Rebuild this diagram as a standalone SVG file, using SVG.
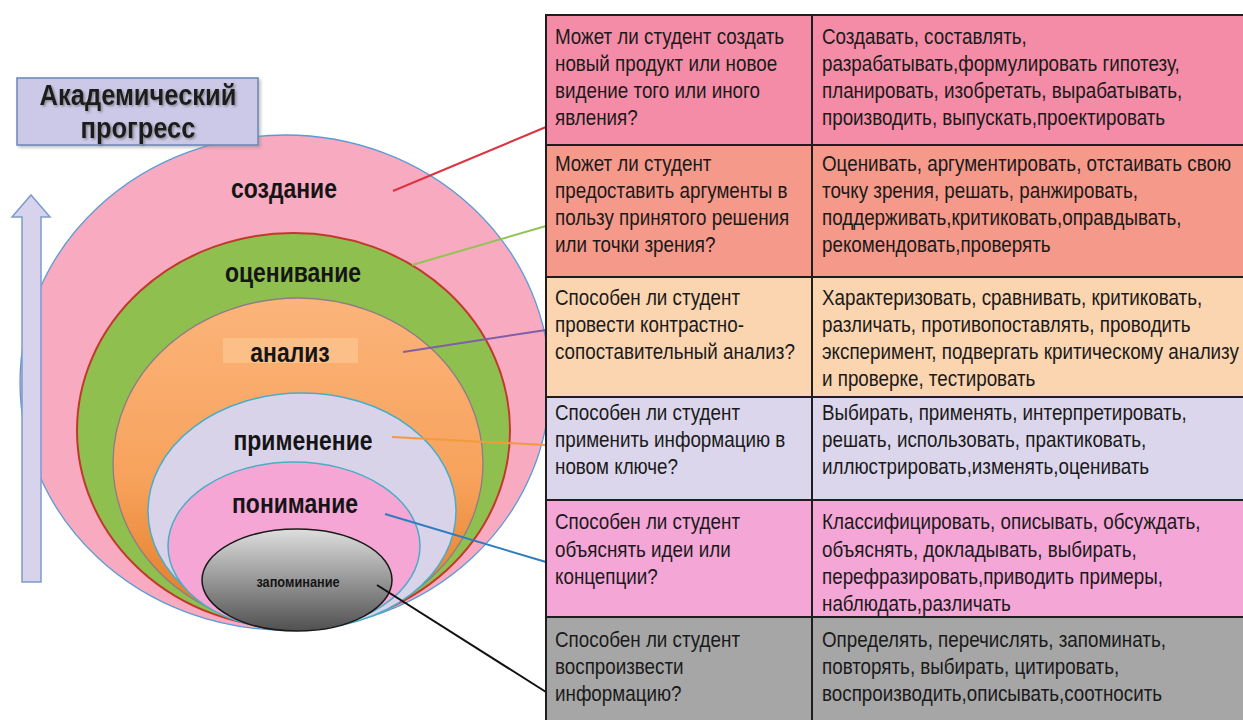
<svg xmlns="http://www.w3.org/2000/svg" width="1243" height="720" viewBox="0 0 1243 720">
<defs>
<linearGradient id="gOrange" x1="0" y1="0" x2="0" y2="1"><stop offset="0" stop-color="#fbb47a"/><stop offset="0.55" stop-color="#f7a25c"/><stop offset="1" stop-color="#df7820"/></linearGradient>
<linearGradient id="gGray" x1="0" y1="0" x2="0" y2="1"><stop offset="0" stop-color="#dedede"/><stop offset="1" stop-color="#505050"/></linearGradient>
<filter id="tshadow" x="-10%" y="-20%" width="120%" height="150%"><feDropShadow dx="1.5" dy="1.5" stdDeviation="0.8" flood-color="#6a6a6a" flood-opacity="0.7"/></filter>
<filter id="bshadow" x="-5%" y="-10%" width="115%" height="130%"><feDropShadow dx="2" dy="2" stdDeviation="1.5" flood-color="#888" flood-opacity="0.5"/></filter>
</defs>
<style>
.lbl{font-family:"Liberation Sans",Arial,sans-serif;font-weight:bold;font-size:27px;fill:#151515;text-anchor:middle}
.ttl{font-family:"Liberation Sans",Arial,sans-serif;font-weight:bold;font-size:30px;fill:#1a1a1a;text-anchor:middle}
.cell{font-family:"Liberation Sans",Arial,sans-serif;font-size:21.5px;fill:#1a1a1a}
.conn{fill:none;stroke-width:2}
.grid{stroke:#1e1e1e;stroke-width:2}
</style>
<rect width="1243" height="720" fill="#ffffff"/>

<g id="level-sozdanie">
<ellipse cx="285" cy="382.5" rx="265" ry="247.5" fill="#f8aac0" stroke="#5b9bd5" stroke-width="1.3"/>
<text class="lbl" transform="translate(284,198) scale(0.85,1)">создание</text>
</g>
<g id="level-otsenivanie">
<ellipse cx="293.5" cy="430.5" rx="216.5" ry="197.5" fill="#8fbf4f" stroke="#c0392b" stroke-width="2"/>
<text class="lbl" transform="translate(293,282) scale(0.85,1)">оценивание</text>
</g>
<g id="level-analiz">
<ellipse cx="298" cy="463" rx="185" ry="165" fill="url(#gOrange)" stroke="#8c7d86" stroke-width="1.3"/>
<rect x="223" y="338" width="135" height="25" fill="#fcbf88"/>
<text class="lbl" transform="translate(290,362) scale(0.85,1)">анализ</text>
</g>
<g id="level-primenenie">
<ellipse cx="302" cy="511" rx="154" ry="118" fill="#d9d3ea" stroke="#4bacc6" stroke-width="1.5"/>
<text class="lbl" transform="translate(303,450) scale(0.85,1)">применение</text>
</g>
<g id="level-ponimanie">
<ellipse cx="294" cy="546" rx="126" ry="84" fill="#f5a6d5" stroke="#4bacc6" stroke-width="1.5"/>
<text class="lbl" transform="translate(295,513) scale(0.85,1)">понимание</text>
</g>
<g id="level-zapominanie">
<ellipse cx="297" cy="580" rx="95" ry="51" fill="url(#gGray)" stroke="#1a1a1a" stroke-width="1.5"/>
<text class="lbl" style="font-size:15px" transform="translate(298,587) scale(0.85,1)">запоминание</text>
</g>

<g id="title">
<rect x="17" y="78" width="241" height="67" fill="#ccc9e8" stroke="#6d85b8" stroke-width="1.5" filter="url(#bshadow)"/>
<g filter="url(#tshadow)">
<text class="ttl" transform="translate(138,105) scale(0.85,1)">Академический</text>
<text class="ttl" transform="translate(138,138) scale(0.85,1)">прогресс</text>
</g>
</g>

<g id="arrow">
<polygon points="22,582 22,217 12,217 31,195 50,217 41,217 41,582" fill="#d7d3ec" stroke="#7d9bd0" stroke-width="1.5"/>
</g>

<g id="connectors">
<path class="conn" d="M393 191 L546 127" stroke="#d9343f"/>
<path class="conn" d="M412 265 L546 226" stroke="#92c353"/>
<path class="conn" d="M403 352 L546 330" stroke="#7f5fa8"/>
<path class="conn" d="M392 437 L546 445" stroke="#f29b3c"/>
<path class="conn" d="M385 514 L546 562" stroke="#2f7dc1"/>
<path class="conn" d="M377 585 L546 692" stroke="#111111"/>
</g>

<g id="table">
<g id="row1">
<rect class="grid" x="546" y="15" width="266" height="130" fill="#f48ca7"/>
<rect class="grid" x="812" y="15" width="432" height="130" fill="#f48ca7"/>
<text class="cell" transform="translate(555,0) scale(0.875,1)"><tspan x="0" y="44">Может ли студент создать</tspan><tspan x="0" y="71">новый продукт или новое</tspan><tspan x="0" y="98">видение того или иного</tspan><tspan x="0" y="125">явления?</tspan></text>
<text class="cell" transform="translate(822,0) scale(0.875,1)"><tspan x="0" y="44">Создавать, составлять,</tspan><tspan x="0" y="71">разрабатывать,формулировать гипотезу,</tspan><tspan x="0" y="98">планировать, изобретать, вырабатывать,</tspan><tspan x="0" y="125">производить, выпускать,проектировать</tspan></text>
</g>
<g id="row2">
<rect class="grid" x="546" y="145" width="266" height="132" fill="#f5998a"/>
<rect class="grid" x="812" y="145" width="432" height="132" fill="#f5998a"/>
<text class="cell" transform="translate(555,0) scale(0.875,1)"><tspan x="0" y="171">Может ли студент</tspan><tspan x="0" y="198">предоставить аргументы в</tspan><tspan x="0" y="225">пользу принятого решения</tspan><tspan x="0" y="252">или точки зрения?</tspan></text>
<text class="cell" transform="translate(822,0) scale(0.875,1)"><tspan x="0" y="171">Оценивать, аргументировать, отстаивать свою</tspan><tspan x="0" y="198">точку зрения, решать, ранжировать,</tspan><tspan x="0" y="225">поддерживать,критиковать,оправдывать,</tspan><tspan x="0" y="252">рекомендовать,проверять</tspan></text>
</g>
<g id="row3">
<rect class="grid" x="546" y="277" width="266" height="120" fill="#fbd4b0"/>
<rect class="grid" x="812" y="277" width="432" height="120" fill="#fbd4b0"/>
<text class="cell" transform="translate(555,0) scale(0.875,1)"><tspan x="0" y="305">Способен ли студент</tspan><tspan x="0" y="332">провести контрастно-</tspan><tspan x="0" y="359">сопоставительный анализ?</tspan></text>
<text class="cell" transform="translate(822,0) scale(0.875,1)"><tspan x="0" y="305">Характеризовать, сравнивать, критиковать,</tspan><tspan x="0" y="332">различать, противопоставлять, проводить</tspan><tspan x="0" y="359">эксперимент, подвергать критическому анализу</tspan><tspan x="0" y="386">и проверке, тестировать</tspan></text>
</g>
<g id="row4">
<rect class="grid" x="546" y="397" width="266" height="103" fill="#dcd6ec"/>
<rect class="grid" x="812" y="397" width="432" height="103" fill="#dcd6ec"/>
<text class="cell" transform="translate(555,0) scale(0.875,1)"><tspan x="0" y="420">Способен ли студент</tspan><tspan x="0" y="447">применить информацию в</tspan><tspan x="0" y="474">новом ключе?</tspan></text>
<text class="cell" transform="translate(822,0) scale(0.875,1)"><tspan x="0" y="420">Выбирать, применять, интерпретировать,</tspan><tspan x="0" y="447">решать, использовать, практиковать,</tspan><tspan x="0" y="474">иллюстрировать,изменять,оценивать</tspan></text>
</g>
<g id="row5">
<rect class="grid" x="546" y="500" width="266" height="117" fill="#f4a6d7"/>
<rect class="grid" x="812" y="500" width="432" height="117" fill="#f4a6d7"/>
<text class="cell" transform="translate(555,0) scale(0.875,1)"><tspan x="0" y="529">Способен ли студент</tspan><tspan x="0" y="557">объяснять идеи или</tspan><tspan x="0" y="584">концепции?</tspan></text>
<text class="cell" transform="translate(822,0) scale(0.875,1)"><tspan x="0" y="529">Классифицировать, описывать, обсуждать,</tspan><tspan x="0" y="557">объяснять, докладывать, выбирать,</tspan><tspan x="0" y="584">перефразировать,приводить примеры,</tspan><tspan x="0" y="611">наблюдать,различать</tspan></text>
</g>
<g id="row6">
<rect class="grid" x="546" y="617" width="266" height="104" fill="#a6a6a6"/>
<rect class="grid" x="812" y="617" width="432" height="104" fill="#a6a6a6"/>
<text class="cell" transform="translate(555,0) scale(0.875,1)"><tspan x="0" y="647">Способен ли студент</tspan><tspan x="0" y="674">воспроизвести</tspan><tspan x="0" y="701">информацию?</tspan></text>
<text class="cell" transform="translate(822,0) scale(0.875,1)"><tspan x="0" y="647">Определять, перечислять, запоминать,</tspan><tspan x="0" y="674">повторять, выбирать, цитировать,</tspan><tspan x="0" y="701">воспроизводить,описывать,соотносить</tspan></text>
</g>
</g>
</svg>
